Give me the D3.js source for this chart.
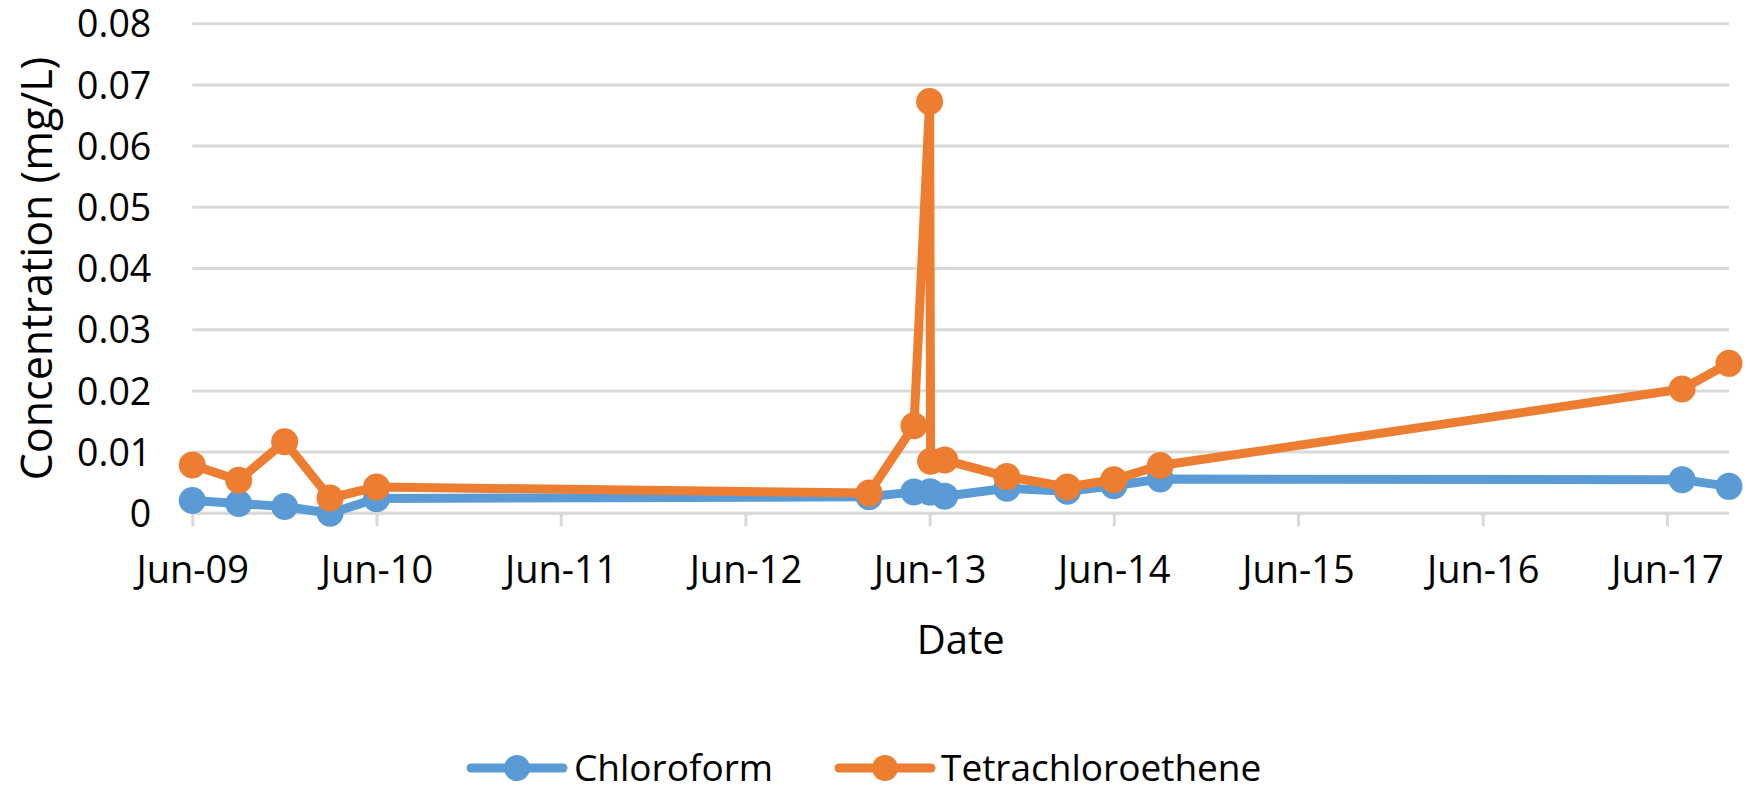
<!DOCTYPE html>
<html>
<head>
<meta charset="utf-8">
<script src="https://cdn.jsdelivr.net/npm/d3@7"></script>
<style>
  body { margin: 0; background: #fff; }
  text { font-family: "Open Sans", "Noto Sans", sans-serif; fill: #000; }
</style>
</head>
<body>
<div id="chart"></div>
<script>
// sample dates (shared by both series)
const sampleDates = [
  "2009-06-01", "2009-09-01", "2009-12-01", "2010-03-01", "2010-06-01",
  "2013-02-01", "2013-05-01", "2013-06-01", "2013-06-03", "2013-07-01",
  "2013-11-01", "2014-03-01", "2014-06-01", "2014-09-01", "2017-07-01",
  "2017-10-02"
];
const chloroform = [
  0.0021, 0.0016, 0.0011, 0.0000, 0.0024,
  0.0027, 0.0035, 0.0035, 0.0035, 0.0028,
  0.0041, 0.0036, 0.0045, 0.0056, 0.0055,
  0.0044
];
const tetrachloroethene = [
  0.0079, 0.0054, 0.0117, 0.0025, 0.0043,
  0.0033, 0.0143, 0.0673, 0.0085, 0.0087,
  0.0060, 0.0043, 0.0055, 0.0078, 0.0203,
  0.0245
];
const seriesNames = ["Chloroform", "Tetrachloroethene"];
const seriesColors = ["#5B9BD5", "#ED7D31"];
const yTicks = [0, 0.01, 0.02, 0.03, 0.04, 0.05, 0.06, 0.07, 0.08];
const xTickYears = [2009, 2010, 2011, 2012, 2013, 2014, 2015, 2016, 2017];

const W = 1745, H = 791;
const margin = { top: 23.7, right: 16, bottom: 277.7, left: 192.3 };
const width = W - margin.left - margin.right;
const height = H - margin.top - margin.bottom;

const parse = d3.timeParse("%Y-%m-%d");
const dates = sampleDates.map(parse);

const svg = d3.select("#chart").append("svg")
  .attr("width", W)
  .attr("height", H);

const g = svg.append("g")
  .attr("transform", `translate(${margin.left},${margin.top})`);

const x = d3.scaleTime()
  .domain([dates[0], dates[dates.length - 1]])
  .range([0, width]);

const y = d3.scaleLinear()
  .domain([0, 0.08])
  .range([height, 0]);

// gridlines
g.selectAll(".grid")
  .data(yTicks)
  .enter()
  .append("line")
  .attr("class", "grid")
  .attr("x1", 0)
  .attr("x2", width)
  .attr("y1", (d) => y(d))
  .attr("y2", (d) => y(d))
  .attr("stroke", "#d9d9d9")
  .attr("stroke-width", 3);

// y axis labels
const yAxis = d3.axisLeft(y)
  .tickValues(yTicks)
  .tickSize(0)
  .tickPadding(41)
  .tickFormat((d) => (d === 0 ? "0" : d3.format(".2f")(d)));

const yAxisGroup = g.append("g").call(yAxis);
yAxisGroup.select(".domain").remove();
yAxisGroup.selectAll("text")
  .style("font-size", "37.5px")
  .attr("dy", "0.35em");

// x axis
const xTickDates = xTickYears.map((yr) => new Date(yr, 5, 1));
const xAxis = d3.axisBottom(x)
  .tickValues(xTickDates)
  .tickSize(13)
  .tickPadding(30)
  .tickFormat(d3.timeFormat("%b-%y"));

const xAxisGroup = g.append("g")
  .attr("transform", `translate(0,${height})`)
  .call(xAxis);
xAxisGroup.select(".domain")
  .attr("stroke", "#d9d9d9")
  .attr("stroke-width", 3)
  .attr("d", `M0,0H${width}`);
xAxisGroup.selectAll(".tick line")
  .attr("stroke", "#d9d9d9")
  .attr("stroke-width", 3);
xAxisGroup.selectAll("text")
  .style("font-size", "38px");

// axis titles
svg.append("text")
  .attr("x", margin.left + width / 2)
  .attr("y", 654)
  .attr("text-anchor", "middle")
  .style("font-size", "40px")
  .text("Date");

svg.append("text")
  .attr("transform", `translate(52,${margin.top + height / 2}) rotate(-90)`)
  .attr("text-anchor", "middle")
  .style("font-size", "43px")
  .text("Concentration (mg/L)");

// series
const allSeries = [chloroform, tetrachloroethene].map((vals, i) => ({
  name: seriesNames[i],
  color: seriesColors[i],
  points: vals.map((v, j) => ({ date: dates[j], value: v }))
}));

const line = d3.line()
  .x((d) => x(d.date))
  .y((d) => y(d.value));

allSeries.forEach((s) => {
  const sg = g.append("g").attr("class", "series");
  sg.append("path")
    .datum(s.points)
    .attr("d", line)
    .attr("fill", "none")
    .attr("stroke", s.color)
    .attr("stroke-width", 9)
    .attr("stroke-linejoin", "round")
    .attr("stroke-linecap", "round");
  sg.selectAll("circle")
    .data(s.points)
    .enter()
    .append("circle")
    .attr("cx", (d) => x(d.date))
    .attr("cy", (d) => y(d.value))
    .attr("r", 13.5)
    .attr("fill", s.color);
});

// legend
const legendItems = [
  { x: 467, textX: 574 },
  { x: 835, textX: 941 }
];
const legend = svg.append("g").attr("transform", "translate(0,768)");
allSeries.forEach((s, i) => {
  const it = legendItems[i];
  legend.append("line")
    .attr("x1", it.x + 4)
    .attr("x2", it.x + 96)
    .attr("y1", 0)
    .attr("y2", 0)
    .attr("stroke", s.color)
    .attr("stroke-width", 9)
    .attr("stroke-linecap", "round");
  legend.append("circle")
    .attr("cx", it.x + 50)
    .attr("cy", 0)
    .attr("r", 13)
    .attr("fill", s.color);
  legend.append("text")
    .attr("x", it.textX)
    .attr("y", 0)
    .attr("dy", "0.35em")
    .style("font-size", "37px")
    .text(s.name);
});
</script>
</body>
</html>
